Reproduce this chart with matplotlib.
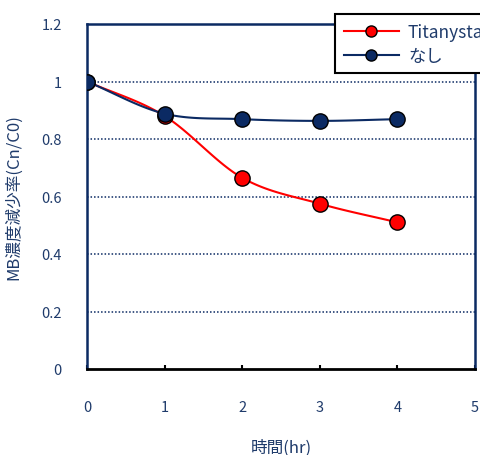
import numpy as np
import matplotlib.pyplot as plt

plt.rcParams['font.family'] = ['Noto Sans CJK JP', 'DejaVu Sans']

hours = [0, 1, 2, 3, 4]
titanystar = [1.0, 0.88, 0.665, 0.575, 0.51]
nashi = [1.0, 0.888, 0.869, 0.863, 0.869]
labels = ['Titanystar', 'なし']

navy = '#0b2a63'
text_c = '#1f3b6b'


def smooth(x, y, n=30):
    # Catmull-Rom curve through the points (like Excel smoothed lines)
    x = np.asarray(x, float)
    y = np.asarray(y, float)
    px = np.concatenate([[2 * x[0] - x[1]], x, [2 * x[-1] - x[-2]]])
    py = np.concatenate([[2 * y[0] - y[1]], y, [2 * y[-1] - y[-2]]])
    xs, ys = [], []
    t = np.linspace(0, 1, n)
    for i in range(1, len(px) - 2):
        for p, out in ((px, xs), (py, ys)):
            p0, p1, p2, p3 = p[i - 1], p[i], p[i + 1], p[i + 2]
            out.extend(0.5 * (2 * p1 + (-p0 + p2) * t
                              + (2 * p0 - 5 * p1 + 4 * p2 - p3) * t ** 2
                              + (-p0 + 3 * p1 - 3 * p2 + p3) * t ** 3))
    return xs, ys


fig = plt.figure(figsize=(4.81, 4.56), dpi=100)
ax = fig.add_axes([87 / 481, 1 - 370 / 456, 388 / 481, 345 / 456])

for yv in [0.2, 0.4, 0.6, 0.8, 1.0]:
    ax.axhline(yv, color=navy, lw=1.1, ls=(0, (1, 1.3)), zorder=1)

for vals, col, lab in [(titanystar, '#ff0000', labels[0]), (nashi, navy, labels[1])]:
    sx, sy = smooth(hours, vals)
    ax.plot(sx, sy, color=col, lw=1.5, zorder=2)
    ax.plot(hours, vals, 'o', color=col, mfc=col, mec='black', mew=1,
            ms=11, zorder=3)
    ax.plot([], [], '-o', color=col, mfc=col, mec='black', mew=1, ms=8,
            lw=1.5, label=lab)

ax.set_xlim(0, 5)
ax.set_ylim(0, 1.2)
ax.set_xticks(range(6))
ax.set_yticks([0, 0.2, 0.4, 0.6, 0.8, 1.0, 1.2])
ax.set_yticklabels(['0', '0.2', '0.4', '0.6', '0.8', '1', '1.2'])
ax.tick_params(axis='x', direction='in', length=3, width=1.5, pad=22,
               colors='black', labelcolor=text_c, labelsize=10.5)
ax.tick_params(axis='y', length=0, pad=18, labelcolor=text_c, labelsize=10.5)

for s in ['left', 'top', 'right']:
    ax.spines[s].set_color(navy)
    ax.spines[s].set_linewidth(1.8)
ax.spines['bottom'].set_color('black')
ax.spines['bottom'].set_linewidth(2)

ax.set_xlabel('時間(hr)', color=text_c, fontsize=12, labelpad=18)
ax.set_ylabel('MB濃度減少率(Cn/C0)', color=text_c, fontsize=12, labelpad=14)

leg = fig.legend(loc='upper left', bbox_to_anchor=(335 / 481, 1 - 15 / 456),
                 borderaxespad=0, fancybox=False, edgecolor='black',
                 framealpha=1, fontsize=12.5, handlelength=3.2, borderpad=0.5,
                 labelspacing=0.35, handletextpad=0.5)
for t in leg.get_texts():
    t.set_color(text_c)
leg.get_frame().set_linewidth(1.5)

fig.savefig('out.png', dpi=100)
